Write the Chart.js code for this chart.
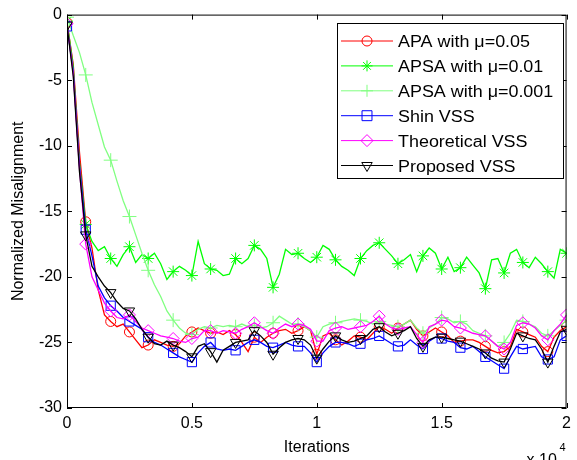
<!DOCTYPE html>
<html>
<head>
<meta charset="utf-8">
<script src="https://cdn.jsdelivr.net/npm/chart.js@4/dist/chart.umd.min.js"></script>
<style>
  body { margin: 0; background: #fff; }
  #misalign { display: block; }
</style>
</head>
<body>
<canvas id="misalign" width="577" height="460"></canvas>
<script>
// iterations (x axis), one sample every 250
const iterations = [0, 250, 500, 750, 1000, 1250, 1500, 1750, 2000, 2250,
  2500, 2750, 3000, 3250, 3500, 3750, 4000, 4250, 4500, 4750,
  5000, 5250, 5500, 5750, 6000, 6250, 6500, 6750, 7000, 7250,
  7500, 7750, 8000, 8250, 8500, 8750, 9000, 9250, 9500, 9750,
  10000, 10250, 10500, 10750, 11000, 11250, 11500, 11750, 12000, 12250,
  12500, 12750, 13000, 13250, 13500, 13750, 14000, 14250, 14500, 14750,
  15000, 15250, 15500, 15750, 16000, 16250, 16500, 16750, 17000, 17250,
  17500, 17750, 18000, 18250, 18500, 18750, 19000, 19250, 19500, 19750, 20000];

const xTicks = [0, 5000, 10000, 15000, 20000];
const yTicks = [-30, -25, -20, -15, -10, -5, 0];

// normalized misalignment (dB)
const apa005 = [-0.6, -3.8, -10.5, -15.8, -17.8, -21.0, -22.9, -23.4, -23.8, -23.6,
  -24.2, -24.8, -25.4, -25.2, -24.8, -25.0, -25.2, -25.3, -25.1, -24.5,
  -24.2, -23.9, -24.1, -24.3, -24.2, -24.4, -24.1, -24.4, -25.0, -25.7,
  -24.6, -25.0, -24.6, -24.3, -24.1, -24.0, -24.3, -24.1, -23.8, -24.1,
  -25.9, -24.5, -24.3, -24.8, -25.2, -24.9, -24.5, -24.6, -24.8, -24.3,
  -23.8, -24.0, -24.3, -23.9, -23.6, -23.3, -24.0, -24.5, -24.2, -23.9,
  -24.2, -24.5, -25.0, -24.9, -24.8, -24.8, -25.0, -25.3, -25.6, -25.8,
  -25.7, -25.3, -24.0, -24.2, -24.4, -24.6, -25.3, -25.7, -24.6, -24.1, -23.8];

const apsa001 = [-0.5, -4.0, -11.3, -16.0, -17.3, -18.0, -17.7, -18.6, -19.2, -18.3,
  -17.7, -18.9, -18.3, -18.6, -18.2, -19.0, -20.2, -19.6, -19.2, -19.5,
  -19.9, -17.3, -19.0, -19.4, -19.5, -19.9, -19.8, -18.6, -19.0, -18.6,
  -17.6, -17.9, -18.6, -20.8, -19.8, -17.9, -18.3, -18.2, -18.6, -18.9,
  -18.5, -17.6, -17.9, -18.7, -19.2, -19.5, -19.9, -18.6, -18.0, -17.6,
  -17.4, -17.9, -18.4, -19.0, -18.7, -18.3, -19.6, -18.4, -17.8, -18.2,
  -19.4, -18.5, -19.6, -19.3, -18.5, -19.1, -19.7, -20.9, -18.7, -18.6,
  -19.7, -18.2, -17.9, -18.9, -19.3, -18.5, -19.0, -19.6, -20.1, -17.9, -18.2];

const apsa0001 = [-0.2, -1.6, -2.9, -4.6, -6.7, -8.4, -10.1, -11.1, -12.7, -14.2,
  -15.4, -16.8, -18.2, -19.5, -20.6, -21.5, -22.6, -23.3, -23.9, -24.3,
  -24.4, -24.0, -23.8, -23.9, -23.7, -23.8, -23.7, -23.8, -23.6, -23.8,
  -23.7, -23.9, -23.8, -23.5, -23.0, -23.3, -23.6, -23.6, -23.8, -24.1,
  -24.6, -23.8, -23.6, -23.5, -23.4, -23.3, -23.2, -23.3, -23.4, -23.6,
  -23.4, -23.6, -23.7, -23.8, -23.6, -23.3, -23.9, -24.3, -23.9, -23.6,
  -23.1, -23.2, -23.5, -23.4, -23.6, -24.1, -24.3, -24.5, -24.9, -25.3,
  -25.0, -24.3, -23.3, -23.4, -23.6, -23.8, -24.3, -24.5, -24.1, -23.7, -23.3];

const shinVss = [-0.9, -4.3, -11.5, -16.4, -18.4, -20.7, -21.6, -22.2, -22.6, -23.1,
  -23.4, -23.7, -24.0, -24.6, -25.0, -25.2, -25.5, -25.8, -26.1, -26.3,
  -26.5, -25.8, -25.3, -25.0, -25.5, -25.6, -25.5, -25.6, -25.3, -25.0,
  -24.8, -25.0, -25.3, -25.4, -25.2, -25.0, -25.2, -25.3, -25.3, -25.8,
  -26.5, -25.8, -25.3, -25.0, -25.0, -25.1, -25.3, -25.1, -24.8, -24.7,
  -24.5, -24.8, -25.1, -25.3, -25.2, -24.8, -25.2, -25.5, -24.9, -24.6,
  -24.7, -24.9, -25.0, -25.4, -25.5, -25.3, -25.7, -26.1, -26.4, -26.7,
  -27.0, -26.1, -25.3, -25.5, -25.4, -25.3, -26.1, -26.3, -26.1, -24.8, -24.5];

const theoVss = [-0.7, -4.5, -11.8, -17.5, -20.0, -21.0, -22.0, -22.6, -23.1, -23.2,
  -22.9, -23.4, -23.9, -24.1, -24.3, -24.5, -24.6, -24.7, -24.9, -25.0,
  -24.7, -24.6, -24.1, -24.1, -24.3, -24.1, -24.2, -24.3, -24.0, -23.8,
  -23.5, -23.8, -24.1, -24.3, -23.9, -23.6, -23.8, -23.6, -23.7, -24.0,
  -24.9, -24.9, -24.1, -23.9, -23.8, -24.0, -23.9, -23.8, -23.7, -23.4,
  -23.0, -23.6, -23.9, -24.0, -23.9, -23.8, -24.4, -25.0, -23.8, -23.6,
  -23.3, -23.4, -23.8, -23.9, -24.1, -24.3, -24.4, -24.5, -24.9, -25.3,
  -25.5, -25.0, -23.7, -23.5, -23.6, -23.9, -24.5, -24.8, -24.1, -23.6, -22.9];

const proposedVss = [-0.8, -4.7, -12.0, -16.8, -19.2, -20.0, -20.7, -21.2, -21.9, -22.4,
  -22.6, -23.2, -24.0, -24.6, -25.1, -25.2, -24.9, -25.2, -25.4, -25.7,
  -26.1, -25.3, -25.1, -25.7, -26.5, -25.6, -25.3, -25.0, -24.9, -24.8,
  -24.1, -24.5, -25.0, -25.9, -25.4, -25.0, -24.8, -24.7, -24.8, -25.2,
  -26.2, -25.5, -24.9, -24.5, -24.8, -25.0, -24.9, -24.7, -24.5, -24.0,
  -23.8, -24.2, -24.5, -24.3, -24.1, -23.8, -24.7, -25.3, -24.8, -24.6,
  -24.6, -24.7, -24.8, -24.9, -25.1, -25.3, -25.5, -25.8, -26.2, -26.4,
  -26.5, -25.5, -24.3, -24.5, -24.7, -24.8, -25.5, -26.5, -25.3, -24.2, -24.0];

const FONT = '"Liberation Sans", Arial, sans-serif';

// markers every 20000/24 iterations, same spots for every curve
function isMarker(i) {
  const k = i * 0.3;
  return Math.abs(k - Math.round(k)) < 0.15;
}

function makeSet(label, values, color, style, radius, order, rotation) {
  return {
    label: label,
    data: iterations.map((it, i) => ({ x: it, y: values[i] })),
    borderColor: color,
    borderWidth: 1.3,
    pointStyle: style,
    pointRotation: rotation || 0,
    pointRadius: ctx => isMarker(ctx.dataIndex) ? radius : 0,
    pointBorderColor: color,
    pointBackgroundColor: 'rgba(0,0,0,0)',
    pointBorderWidth: 1,
    tension: 0,
    order: order
  };
}

// marker drawing for the legend
function legendMarker(ctx, style, x, y, r) {
  ctx.beginPath();
  if (style === 'circle') {
    ctx.arc(x, y, r, 0, Math.PI * 2);
  } else if (style === 'star') {
    for (let a = 0; a < 4; a++) {
      const ang = a * Math.PI / 4;
      ctx.moveTo(x - r * Math.cos(ang), y - r * Math.sin(ang));
      ctx.lineTo(x + r * Math.cos(ang), y + r * Math.sin(ang));
    }
  } else if (style === 'cross') {
    ctx.moveTo(x - r, y); ctx.lineTo(x + r, y);
    ctx.moveTo(x, y - r); ctx.lineTo(x, y + r);
  } else if (style === 'rect') {
    ctx.rect(x - r * 0.71, y - r * 0.71, r * 1.42, r * 1.42);
  } else if (style === 'rectRot') {
    ctx.moveTo(x, y - r); ctx.lineTo(x + r, y); ctx.lineTo(x, y + r); ctx.lineTo(x - r, y); ctx.closePath();
  } else if (style === 'triangle') {
    ctx.moveTo(x - r * 0.87, y - r * 0.5); ctx.lineTo(x + r * 0.87, y - r * 0.5); ctx.lineTo(x, y + r); ctx.closePath();
  }
  ctx.stroke();
}

const framePlugin = {
  id: 'frame',
  afterDatasetsDraw(chart) {
    const { ctx, chartArea: a, scales: { x, y } } = chart;
    ctx.save();
    ctx.strokeStyle = '#000';
    ctx.lineWidth = 1;
    ctx.strokeRect(a.left + 0.5, a.top + 0.5, a.right - a.left - 1, a.bottom - a.top - 1);
    ctx.beginPath();
    xTicks.forEach(v => {
      const px = Math.round(x.getPixelForValue(v)) + 0.5;
      ctx.moveTo(px, a.bottom); ctx.lineTo(px, a.bottom - 5);
      ctx.moveTo(px, a.top); ctx.lineTo(px, a.top + 5);
    });
    yTicks.forEach(v => {
      const py = Math.round(y.getPixelForValue(v)) + 0.5;
      ctx.moveTo(a.left, py); ctx.lineTo(a.left + 5, py);
      ctx.moveTo(a.right, py); ctx.lineTo(a.right - 5, py);
    });
    ctx.stroke();

    // x10^4 exponent under the right end of the axis
    ctx.fillStyle = '#000';
    ctx.textBaseline = 'alphabetic';
    ctx.font = '16px ' + FONT;
    ctx.fillText('x 10', a.right - 40, 465);
    ctx.font = '11px ' + FONT;
    ctx.fillText('4', a.right - 7, 451);

    // legend box
    const lx = 337, ly = 23, lw = 226, lh = 155;
    ctx.fillStyle = '#fff';
    ctx.fillRect(lx, ly, lw, lh);
    ctx.strokeRect(lx + 0.5, ly + 0.5, lw, lh);
    chart.data.datasets.forEach((ds, i) => {
      const cy = 41 + i * 24.9;
      ctx.strokeStyle = ds.borderColor;
      ctx.lineWidth = 1;
      ctx.beginPath();
      ctx.moveTo(341, cy); ctx.lineTo(393, cy);
      ctx.stroke();
      legendMarker(ctx, ds.pointStyle, 367, cy, ds.legendRadius);
      ctx.save();
      ctx.translate(398, cy + 6);
      ctx.scale(1.12, 1);
      ctx.fillStyle = '#000';
      ctx.font = '16px ' + FONT;
      ctx.fillText(ds.label, 0, 0);
      ctx.restore();
    });
    ctx.restore();
  }
};

const datasets = [
  makeSet('APA with \u03bc=0.05', apa005, '#ff0000', 'circle', 5, 5),
  makeSet('APSA with \u03bc=0.01', apsa001, '#00ff00', 'star', 6, 4),
  makeSet('APSA with \u03bc=0.001', apsa0001, '#80ff80', 'cross', 7, 3),
  makeSet('Shin VSS', shinVss, '#0000ff', 'rect', 6.5, 2),
  makeSet('Theoretical VSS', theoVss, '#ff00ff', 'rectRot', 6, 1),
  makeSet('Proposed VSS', proposedVss, '#000000', 'triangle', 6, 0, 180)
];
const legendRadii = [5, 5.5, 6, 7, 6, 6];
datasets.forEach((d, i) => { d.legendRadius = legendRadii[i]; });

const config = {
  type: 'line',
  data: { datasets: datasets },
  options: {
    responsive: false,
    animation: false,
    events: [],
    layout: { padding: { left: 0, right: 9, top: 14, bottom: 0 } },
    plugins: {
      legend: { display: false },
      tooltip: { enabled: false }
    },
    scales: {
      x: {
        type: 'linear',
        min: 0,
        max: 20000,
        grid: { display: false, drawTicks: false },
        border: { display: false },
        ticks: {
          stepSize: 5000,
          padding: 6,
          color: '#000',
          font: { family: FONT, size: 16 },
          maxRotation: 0,
          callback: v => String(v / 10000)
        },
        title: {
          display: true,
          text: 'Iterations',
          color: '#000',
          font: { family: FONT, size: 16 },
          padding: { top: 0, bottom: 3 }
        },
        afterFit: s => { s.height = 52; }
      },
      y: {
        min: -30,
        max: 0,
        grid: { display: false, drawTicks: false },
        border: { display: false },
        ticks: {
          stepSize: 5,
          padding: 5,
          color: '#000',
          font: { family: FONT, size: 16 }
        },
        title: {
          display: true,
          text: 'Normalized Misalignment',
          color: '#000',
          font: { family: FONT, size: 16 },
          padding: { top: 9, bottom: 0 }
        },
        afterFit: s => { s.width = 67; }
      }
    }
  },
  plugins: [framePlugin]
};

const misalignChart = new Chart(document.getElementById('misalign'), config);
</script>
</body>
</html>
